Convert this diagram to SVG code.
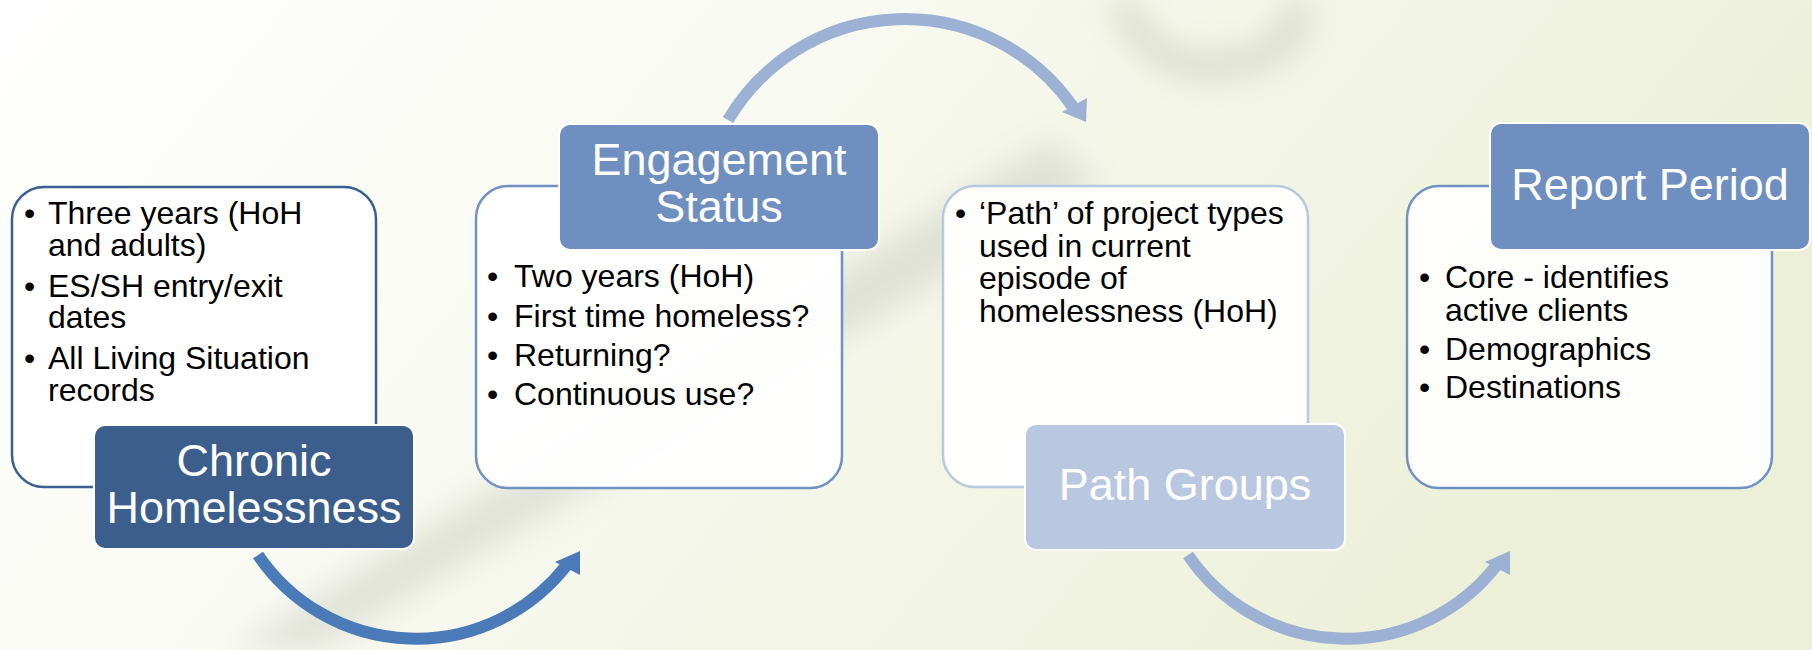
<svg xmlns="http://www.w3.org/2000/svg" width="1812" height="650" viewBox="0 0 1812 650">
<defs>
<linearGradient id="bg" x1="0" y1="0" x2="1" y2="0.3">
<stop offset="0" stop-color="#FFFFFF"/>
<stop offset="0.45" stop-color="#F8F9F0"/>
<stop offset="1" stop-color="#ECF0D8"/>
</linearGradient>
<filter id="blur" x="-50%" y="-50%" width="200%" height="200%"><feGaussianBlur stdDeviation="16"/></filter>
<style>
.body{font-family:"Liberation Sans",Arial,sans-serif;font-size:32px;fill:#000}
.title{font-family:"Liberation Sans",Arial,sans-serif;font-size:45px;fill:#FFFFFF;text-anchor:middle}
.box{fill:#FFFFFF;fill-opacity:0.94;stroke-width:2.5}
.hdr{stroke:#FFFFFF;stroke-width:2}
.arc{fill:none;stroke-width:12}
</style>
</defs>
<rect width="1812" height="650" fill="url(#bg)"/>
<g opacity="0.45" filter="url(#blur)">
<path d="M230 650 L1050 140 L1100 185 L320 650 Z" fill="#C4C8BC"/>
<path d="M1120 0 Q1150 75 1225 65 Q1305 55 1295 0" fill="none" stroke="#B3BA9F" stroke-width="24"/>
</g>

<g id="connectors">
<path class="arc" stroke="#4A7AB7" d="M258 555 A191 191 0 0 0 566 566"/>
<polygon fill="#4A7AB7" points="580,551 555,562 580,575"/>
<path class="arc" stroke="#9CB1D4" d="M728 120 A205 205 0 0 1 1073 107"/>
<polygon fill="#9CB1D4" points="1086,122 1062,112 1087,98"/>
<path class="arc" stroke="#9CB1D4" d="M1188 555 A191 191 0 0 0 1496 566"/>
<polygon fill="#9CB1D4" points="1510,551 1485,562 1510,575"/>
</g>

<g id="chronic">
<rect class="box" x="12" y="187" width="364" height="300" rx="32" stroke="#3B5F8E"/>
<text class="body"><tspan x="24" y="224">•</tspan><tspan x="48" y="224">Three years (HoH</tspan><tspan x="48" y="256">and adults)</tspan><tspan x="24" y="297">•</tspan><tspan x="48" y="297">ES/SH entry/exit</tspan><tspan x="48" y="328">dates</tspan><tspan x="24" y="369">•</tspan><tspan x="48" y="369">All Living Situation</tspan><tspan x="48" y="401">records</tspan></text>
<rect class="hdr" x="94" y="425" width="320" height="124" rx="11" fill="#3B5E8C"/>
<text class="title"><tspan x="254" y="476">Chronic</tspan><tspan x="254" y="523">Homelessness</tspan></text>
</g>

<g id="engagement">
<rect class="box" x="476" y="186" width="366" height="302" rx="32" stroke="#7091C1"/>
<text class="body"><tspan x="487" y="287">•</tspan><tspan x="514" y="287">Two years (HoH)</tspan><tspan x="487" y="327">•</tspan><tspan x="514" y="327">First time homeless?</tspan><tspan x="487" y="366">•</tspan><tspan x="514" y="366">Returning?</tspan><tspan x="487" y="405">•</tspan><tspan x="514" y="405">Continuous use?</tspan></text>
<rect class="hdr" x="559" y="124" width="320" height="126" rx="11" fill="#6F8FC0"/>
<text class="title"><tspan x="719" y="175">Engagement</tspan><tspan x="719" y="222">Status</tspan></text>
</g>

<g id="path-groups">
<rect class="box" x="943" y="186" width="365" height="301" rx="32" stroke="#B9C7E0"/>
<text class="body"><tspan x="955" y="224">•</tspan><tspan x="979" y="224">‘Path’ of project types</tspan><tspan x="979" y="257">used in current</tspan><tspan x="979" y="289">episode of</tspan><tspan x="979" y="322">homelessness (HoH)</tspan></text>
<rect class="hdr" x="1025" y="424" width="320" height="126" rx="11" fill="#B9C7E0"/>
<text class="title" x="1185" y="500">Path Groups</text>
</g>

<g id="report-period">
<rect class="box" x="1407" y="186" width="365" height="302" rx="32" stroke="#7091C1"/>
<text class="body"><tspan x="1419" y="288">•</tspan><tspan x="1445" y="288">Core - identifies</tspan><tspan x="1445" y="321">active clients</tspan><tspan x="1419" y="360">•</tspan><tspan x="1445" y="360">Demographics</tspan><tspan x="1419" y="398">•</tspan><tspan x="1445" y="398">Destinations</tspan></text>
<rect class="hdr" x="1490" y="123" width="320" height="127" rx="11" fill="#6F8FC0"/>
<text class="title" x="1650" y="200">Report Period</text>
</g>
</svg>
